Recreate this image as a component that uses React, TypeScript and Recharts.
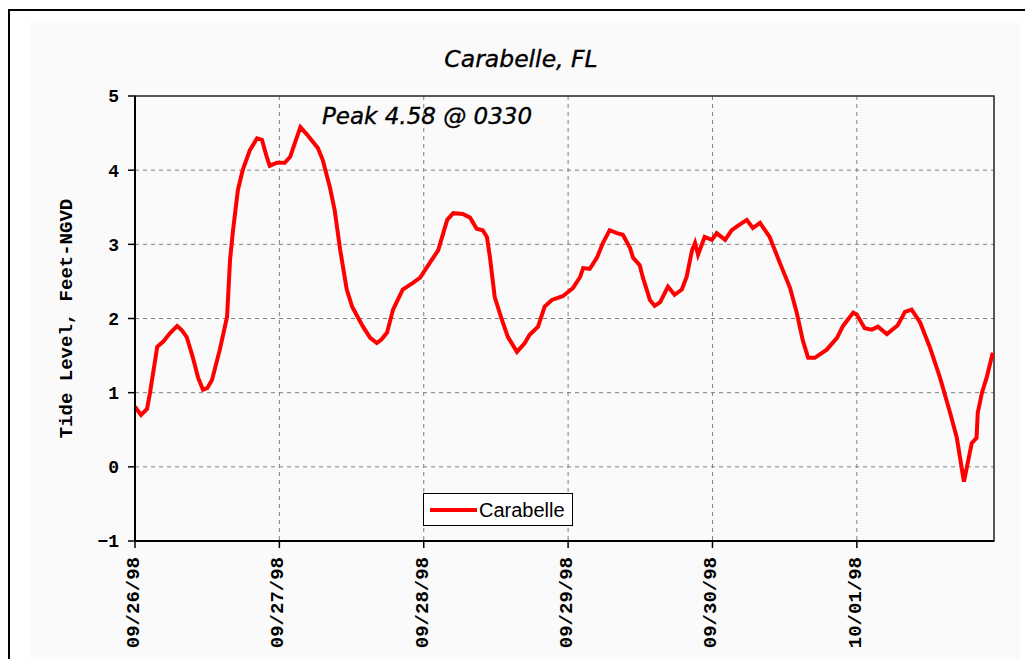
import React from 'react';
import { LineChart, Line, XAxis, YAxis, CartesianGrid, ReferenceArea, Legend, Customized } from 'recharts';

const hours = [
  0.0, 1.0, 2.0, 2.5, 3.7, 4.7, 5.8, 7.0, 7.8, 8.6, 9.6, 10.5, 11.3, 12.0, 12.8, 14.1, 15.3, 15.8, 16.3, 17.1,
  17.9, 19.1, 20.3, 21.1, 21.9, 22.4, 23.6, 24.9, 25.8, 26.6, 27.5, 28.6, 30.4, 31.2, 32.4, 33.2, 34.1, 35.2, 36.1, 37.9,
  39.1, 40.2, 41.0, 41.9, 42.9, 44.5, 46.2, 47.4, 49.0, 50.4, 51.9, 52.9, 54.5, 55.7, 56.8, 57.8, 58.5, 59.0, 59.8, 61.0,
  62.0, 63.5, 64.8, 65.6, 67.0, 68.1, 69.3, 71.1, 72.8, 74.0, 74.5, 75.6, 76.8, 77.8, 78.9, 80.1, 81.1, 82.3, 82.8, 83.9,
  84.4, 85.6, 86.4, 87.3, 88.6, 89.7, 90.9, 91.7, 92.6, 93.1, 93.6, 94.2, 94.7, 95.9, 96.7, 98.1, 99.2, 100.2, 101.7, 102.7,
  103.9, 105.5, 107.2, 108.9, 110.0, 111.0, 111.9, 113.0, 115.0, 116.7, 117.7, 119.4, 120.0, 121.3, 122.5, 123.5, 125.0, 126.8, 128.0, 129.1,
  130.5, 132.1, 133.8, 135.5, 136.6, 137.4, 137.8, 138.3, 139.1, 139.9, 140.1, 140.8, 141.6, 142.6,
];

const levels = [
  0.81, 0.70, 0.78, 1.00, 1.62, 1.69, 1.80, 1.90, 1.84, 1.75, 1.48, 1.20, 1.04, 1.06, 1.17, 1.58, 2.02, 2.79, 3.19, 3.73,
  4.00, 4.27, 4.43, 4.41, 4.18, 4.06, 4.10, 4.10, 4.18, 4.37, 4.58, 4.48, 4.30, 4.14, 3.77, 3.46, 2.93, 2.39, 2.16, 1.89,
  1.74, 1.67, 1.72, 1.81, 2.12, 2.39, 2.48, 2.55, 2.75, 2.92, 3.33, 3.42, 3.41, 3.36, 3.21, 3.19, 3.10, 2.83, 2.29, 1.98,
  1.75, 1.55, 1.67, 1.78, 1.89, 2.16, 2.25, 2.30, 2.41, 2.56, 2.68, 2.67, 2.82, 3.02, 3.19, 3.15, 3.13, 2.95, 2.82, 2.72,
  2.56, 2.25, 2.17, 2.22, 2.43, 2.32, 2.39, 2.56, 2.92, 3.02, 2.86, 2.99, 3.10, 3.06, 3.15, 3.06, 3.19, 3.25, 3.33, 3.22,
  3.29, 3.10, 2.75, 2.41, 2.08, 1.71, 1.47, 1.47, 1.58, 1.74, 1.90, 2.08, 2.05, 1.87, 1.85, 1.89, 1.79, 1.91, 2.09, 2.12,
  1.95, 1.62, 1.21, 0.73, 0.40, 0.00, -0.20, 0.00, 0.32, 0.39, 0.73, 1.00, 1.21, 1.54,
];

const xTickValues = [0, 24, 48, 72, 96, 120];
const xTickLabels = ['09/26/98', '09/27/98', '09/28/98', '09/29/98', '09/30/98', '10/01/98'];
const yTickValues = [-1, 0, 1, 2, 3, 4, 5];

const seriesName = 'Carabelle';
const titleText = 'Carabelle, FL';
const peakText = 'Peak 4.58 @ 0330';
const yAxisTitle = 'Tide Level, Feet-NGVD';

const data = hours.map((h, i) => ({ h, v: levels[i] }));

const MONO = '"Liberation Mono", "Courier New", monospace';

const XTick = (props: any) => {
  const { x, y, payload } = props;
  const idx = xTickValues.indexOf(payload.value);
  return (
    <text
      transform={`translate(${x},${y}) rotate(-90)`}
      textAnchor="end"
      dy={4}
      fontFamily={MONO}
      fontWeight="bold"
      fontSize={19}
      fill="#000"
    >
      {idx >= 0 ? xTickLabels[idx] : ''}
    </text>
  );
};

const LegendBox = () => (
  <div
    style={{
      width: 148,
      height: 31,
      border: '1px solid #000',
      background: '#fff',
      display: 'flex',
      alignItems: 'center',
      boxSizing: 'content-box',
    }}
  >
    <div style={{ width: 47, height: 4, background: '#ff0000', marginLeft: 6 }} />
    <span
      style={{
        marginLeft: 2,
        fontFamily: '"Liberation Sans", Arial, sans-serif',
        fontSize: 20,
        color: '#000',
        lineHeight: '20px',
      }}
    >
      {seriesName}
    </span>
  </div>
);

const Texts = () => (
  <g>
    <text
      x={513}
      y={59}
      textAnchor="middle"
      fontFamily='"DejaVu Sans", sans-serif'
      fontStyle="italic"
      fontWeight={500}
      fontSize={23.5}
      fill="#000"
      stroke="#000"
      strokeWidth={0.35}
    >
      {titleText}
    </text>
    <text
      x={419}
      y={116}
      textAnchor="middle"
      fontFamily='"DejaVu Sans", sans-serif'
      fontStyle="italic"
      fontSize={23}
      fill="#000"
      stroke="#000"
      strokeWidth={0.35}
    >
      {peakText}
    </text>
  </g>
);

export default function App() {
  return (
    <div style={{ position: 'relative', width: 1025, height: 651, overflow: 'hidden', background: '#fff' }}>
      <div
        style={{
          position: 'absolute',
          left: 0,
          top: 1,
          width: 1100,
          height: 700,
          border: '2px solid #000',
          boxSizing: 'border-box',
        }}
      />
      <div
        style={{
          position: 'absolute',
          left: 22,
          top: 15,
          width: 990,
          height: 700,
          background: '#fafafa',
        }}
      />
      <div style={{ position: 'absolute', left: 0, top: 0 }}>
        <LineChart
          width={1025}
          height={651}
          data={data}
          margin={{ top: 88, right: 39, bottom: 18, left: 0 }}
        >
          <CartesianGrid
            stroke="#808080"
            strokeDasharray="4 4"
            strokeWidth={1}
            horizontalValues={[0, 1, 2, 3, 4]}
            verticalValues={[24, 48, 72, 96, 120]}
          />
          <XAxis
            dataKey="h"
            type="number"
            domain={[0, 142.8]}
            ticks={xTickValues}
            interval={0}
            height={100}
            tickSize={7}
            tickMargin={9}
            axisLine={{ stroke: '#000', strokeWidth: 2 }}
            tickLine={{ stroke: '#000', strokeWidth: 1.5 }}
            tick={<XTick />}
            allowDataOverflow
          />
          <YAxis
            type="number"
            domain={[-1, 5]}
            ticks={yTickValues}
            interval={0}
            width={127}
            tickSize={7}
            tickMargin={9}
            axisLine={{ stroke: '#000', strokeWidth: 2 }}
            tickLine={{ stroke: '#000', strokeWidth: 1.5 }}
            tick={{ fill: '#000', fontFamily: MONO, fontWeight: 'bold', fontSize: 18 }}
            tickFormatter={(v: number) => (v < 0 ? '\u2212' + Math.abs(v) : String(v))}
            label={{
              content: (p: any) => {
                const vb = p.viewBox || {};
                const cx = 58;
                const cy = (vb.y ?? 88) + (vb.height ?? 445) / 2;
                return (
                  <text
                    transform={`translate(${cx},${cy}) rotate(-90)`}
                    textAnchor="middle"
                    dy={6}
                    fontFamily={MONO}
                    fontWeight="bold"
                    fontSize={19}
                    fill="#000"
                  >
                    {yAxisTitle}
                  </text>
                );
              },
            }}
          />
          <ReferenceArea
            x1={0}
            x2={142.8}
            y1={-1}
            y2={5}
            fill="none"
            stroke="#222"
            strokeWidth={1.5}
          />
          <Line
            type="linear"
            dataKey="v"
            name={seriesName}
            stroke="#ff0000"
            strokeWidth={4}
            dot={false}
            activeDot={false}
            isAnimationActive={false}
          />
          <Legend
            layout="horizontal"
            verticalAlign="middle"
            align="center"
            wrapperStyle={{ left: 415, top: 485, width: 150, height: 33 }}
            content={<LegendBox />}
          />
          <Customized component={<Texts />} />
        </LineChart>
      </div>
    </div>
  );
}
